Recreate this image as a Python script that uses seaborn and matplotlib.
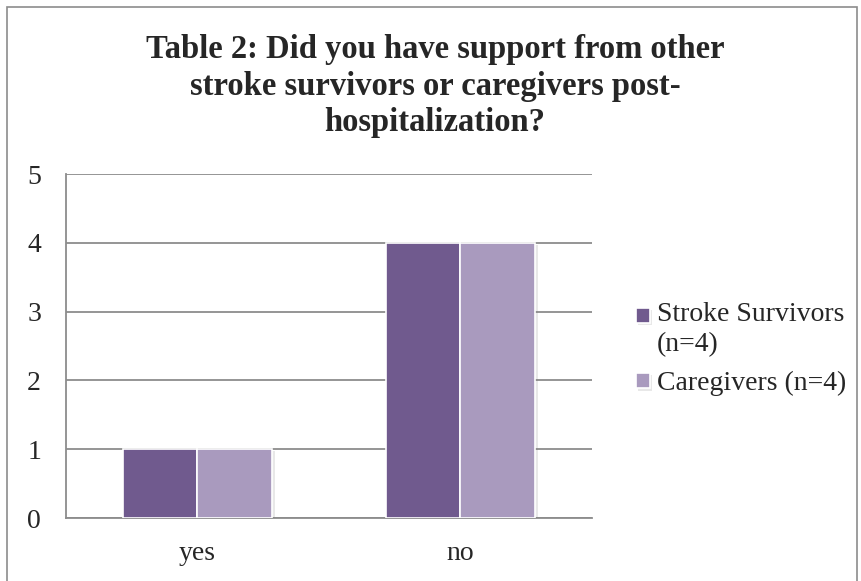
import matplotlib
matplotlib.use("Agg")
import matplotlib.pyplot as plt
import matplotlib.patheffects as pe
from matplotlib.patches import Rectangle
from matplotlib.legend_handler import HandlerPatch
import seaborn as sns
import pandas as pd

answers = ["yes", "no"]
groups = ["Stroke Survivors\n(n=4)", "Caregivers (n=4)"]
survivors = [1, 4]
caregivers = [1, 4]
y_ticks = [0, 1, 2, 3, 4, 5]

df = pd.DataFrame({
    "answer": answers * 2,
    "group": [groups[0]] * len(answers) + [groups[1]] * len(answers),
    "count": survivors + caregivers,
})

sns.set_theme(style="white")
plt.rcParams["font.family"] = ["Liberation Serif", "DejaVu Serif"]

W, H = 862, 581
fig = plt.figure(figsize=(W / 100, H / 100), dpi=100)
ax = fig.add_axes([66 / W, 1 - 518 / H, (592 - 66) / W, (518 - 174) / H])

palette = ["#705a8e", "#a99abe"]
sns.barplot(data=df, x="answer", y="count", hue="group", order=answers,
            hue_order=groups, palette=palette, width=0.57, saturation=1,
            edgecolor="white", linewidth=1.2, ax=ax, zorder=3)

for bar in ax.patches:
    bar.set_path_effects([pe.SimplePatchShadow(offset=(1.5, -1.5), alpha=0.18,
                                               shadow_rgbFace="#808080"), pe.Normal()])

grid_c = "#8c8c8c"
ax.set_ylim(0, 5)
ax.set_xlim(-0.5, 1.5)
ax.set_yticks(y_ticks)
ax.set_yticklabels([str(v) for v in y_ticks])
ax.yaxis.grid(True, color=grid_c, linewidth=1.3, zorder=0)
ax.set_axisbelow(True)
for side in ["top", "right"]:
    ax.spines[side].set_visible(False)
for side in ["left", "bottom"]:
    ax.spines[side].set_color(grid_c)
    ax.spines[side].set_linewidth(1.3)

# category labels centred, tick marks on the category boundaries
ax.set_xticks([-0.5, 0.5, 1.5])
ax.set_xticklabels([])
ax.set_xticks([0, 1], minor=True)
ax.set_xticklabels(answers, minor=True, fontsize=20)
ax.tick_params(axis="x", which="minor", length=0, pad=16.5)
ax.tick_params(axis="x", which="major", length=7, width=1.3, color=grid_c, direction="out")
ax.tick_params(axis="y", length=7, width=1.3, color=grid_c, direction="out",
               labelsize=20, pad=11)
ax.set_xlabel("")
ax.set_ylabel("")


def square_on_first_line(legend, orig_handle, xdescent, ydescent, width, height, fontsize):
    # keep the swatch level with the first line of a two-line label
    return Rectangle((-xdescent, -ydescent + 0.5 * fontsize), width, height)


handles, labels = ax.get_legend_handles_labels()
ax.get_legend().remove()
leg = ax.legend(handles, labels, loc="upper left",
                bbox_to_anchor=(636 / W, 1 - 302 / H),
                bbox_transform=fig.transFigure, frameon=False, fontsize=20,
                handlelength=0.5, handleheight=0.5, handletextpad=0.25,
                labelspacing=0.5, borderpad=0, borderaxespad=0,
                handler_map={handles[0]: HandlerPatch(patch_func=square_on_first_line)})
for t in leg.get_texts():
    t.set_linespacing(1.28)

fig.text(0.5 + 4 / W, 1 - 86 / H,
         "Table 2: Did you have support from other\nstroke survivors or caregivers post-\nhospitalization?",
         ha="center", va="center", fontsize=23.5, fontweight="bold", linespacing=1.24)

fig.patches.append(Rectangle((7 / W, -0.05), (857 - 7) / W, 1 - 7 / H + 0.05,
                             transform=fig.transFigure, fill=False,
                             edgecolor="#8c8c8c", linewidth=1.2))

fig.savefig("out.png", dpi=100, facecolor="white")
